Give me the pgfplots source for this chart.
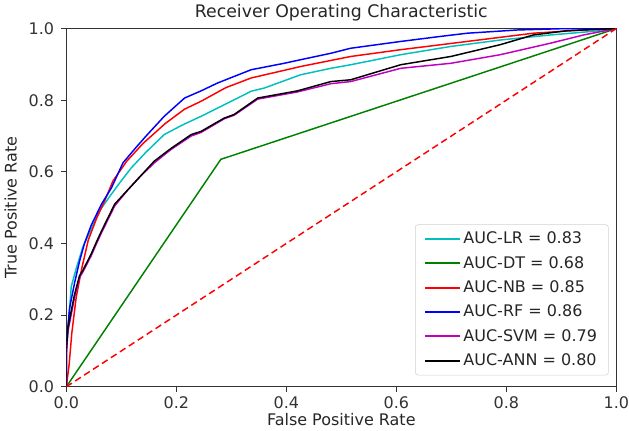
\documentclass[border=0pt]{standalone}
\usepackage{pgfplots}
\pgfplotsset{compat=1.18}
\usepackage{fontspec}
\setmainfont{DejaVu Sans}

\definecolor{mplc}{rgb}{0,0.75,0.75}
\definecolor{mplg}{rgb}{0,0.5,0}
\definecolor{mplm}{rgb}{0.75,0,0.75}

\begin{document}
\begin{tikzpicture}
	\begin{axis}[
		scale only axis,
		width=413pt,
		height=269pt,
		xmin=0, xmax=1,
		ymin=0, ymax=1,
		xtick={0,0.2,0.4,0.6,0.8,1.0},
		ytick={0,0.2,0.4,0.6,0.8,1.0},
		/pgf/number format/assume math mode=true,
		xticklabel style={/pgf/number format/.cd,fixed,fixed zerofill,precision=1,/tikz/.cd,inner xsep=0pt},
		yticklabel style={/pgf/number format/.cd,fixed,fixed zerofill,precision=1,/tikz/.cd,xshift=-2pt},
		tick align=outside,
		xtick pos=bottom,
		ytick pos=left,
		major tick length=3.7pt,
		axis line style={black!80, line width=0.6pt},
		every tick/.style={black!80, line width=0.6pt},
		font=\fontsize{12}{14.4}\selectfont,
		tick label style={font=\fontsize{12}{14.4}\selectfont, text=black!80},
		label style={font=\fontsize{12}{14.4}\selectfont, text=black!85},
		title style={font=\fontsize{13}{15}\selectfont, text=black!85, yshift=-4pt},
		title={Receiver Operating Characteristic},
		xlabel={False Positive Rate},
		ylabel={True Positive Rate},
		xlabel style={yshift=3pt},
		ylabel style={yshift=2pt},
		legend style={
			at={(0.986,0.032)}, anchor=south east,
			draw=black!18, rounded corners=2pt, fill=white,
			font=\fontsize{12}{14.4}\selectfont, text=black!85,
			row sep=3.9pt, inner xsep=6.5pt, inner ysep=3.5pt,
		},
		legend cell align=left,
		legend image code/.code={\draw[#1, line width=1.6pt] (0pt,0pt) -- (26pt,0pt);},
		every axis plot/.append style={line width=1.1pt},
	]

% LR
\addplot[mplc] coordinates {
(0,0) (0,0.10) (0.004,0.18) (0.009,0.28) (0.018,0.33) (0.030,0.39)
(0.045,0.44) (0.060,0.49) (0.076,0.525) (0.095,0.565) (0.118,0.611)
(0.145,0.655) (0.178,0.704) (0.210,0.730) (0.245,0.755) (0.300,0.797)
(0.336,0.825) (0.360,0.834) (0.426,0.871) (0.481,0.889) (0.517,0.899)
(0.608,0.927) (0.699,0.950) (0.789,0.968) (0.880,0.982) (0.971,0.994) (1,1)
};
\addlegendentry{AUC-LR = 0.83}

% DT
\addplot[mplg] coordinates {
(0,0) (0.281,0.635) (1,1)
};
\addlegendentry{AUC-DT = 0.68}

% NB
\addplot[red] coordinates {
(0,0) (0.005,0.06) (0.010,0.15) (0.018,0.25) (0.028,0.33) (0.040,0.41)
(0.055,0.47) (0.070,0.52) (0.085,0.575) (0.110,0.630) (0.140,0.680)
(0.180,0.735) (0.215,0.775) (0.245,0.797) (0.290,0.835) (0.336,0.862)
(0.426,0.894) (0.517,0.922) (0.584,0.936) (0.608,0.941) (0.729,0.964)
(0.849,0.987) (0.940,0.996) (1,1)
};
\addlegendentry{AUC-NB = 0.85}

% RF
\addplot[blue] coordinates {
(0,0) (0,0.12) (0.003,0.17) (0.006,0.22) (0.015,0.29) (0.024,0.35)
(0.033,0.40) (0.045,0.45) (0.064,0.51) (0.082,0.555) (0.103,0.625)
(0.125,0.665) (0.145,0.700) (0.178,0.755) (0.215,0.806) (0.245,0.826)
(0.275,0.848) (0.336,0.885) (0.396,0.903) (0.426,0.913) (0.481,0.931)
(0.517,0.945) (0.608,0.964) (0.680,0.978) (0.729,0.987) (0.820,0.996)
(0.910,1) (1,1)
};
\addlegendentry{AUC-RF = 0.86}

% SVM
\addplot[mplm] coordinates {
(0,0) (0,0.09) (0.003,0.155) (0.010,0.21) (0.015,0.25) (0.024,0.305)
(0.030,0.32) (0.045,0.365) (0.055,0.40) (0.064,0.43) (0.088,0.505)
(0.112,0.55) (0.136,0.59) (0.160,0.625) (0.190,0.662) (0.227,0.700)
(0.245,0.710) (0.287,0.748) (0.305,0.758) (0.348,0.803) (0.420,0.823)
(0.481,0.846) (0.517,0.852) (0.608,0.889) (0.699,0.903) (0.789,0.927)
(0.880,0.959) (0.940,0.982) (1,1)
};
\addlegendentry{AUC-SVM = 0.79}

% ANN
\addplot[black] coordinates {
(0,0) (0,0.10) (0.003,0.165) (0.010,0.22) (0.015,0.258) (0.024,0.31)
(0.030,0.325) (0.045,0.37) (0.055,0.405) (0.064,0.435) (0.088,0.51)
(0.112,0.55) (0.136,0.59) (0.160,0.63) (0.190,0.665) (0.227,0.704)
(0.245,0.713) (0.287,0.750) (0.305,0.760) (0.348,0.806) (0.420,0.826)
(0.481,0.852) (0.517,0.857) (0.608,0.899) (0.699,0.922) (0.789,0.955)
(0.849,0.982) (0.910,0.994) (1,1)
};
\addlegendentry{AUC-ANN = 0.80}

% chance line
\addplot[red, dashed, dash pattern=on 5pt off 3pt, forget plot] coordinates {
(0,0) (1,1)
};
	\end{axis}
\end{tikzpicture}
\end{document}
